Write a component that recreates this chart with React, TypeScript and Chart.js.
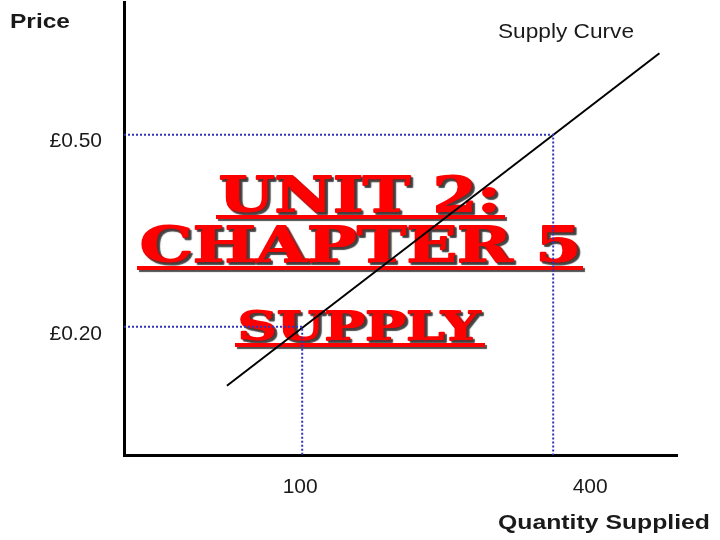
import React, { useEffect, useRef } from "react";
import { Chart, registerables } from "chart.js";

Chart.register(...registerables);

// ---- data ----
const supplyQuantity = [10, 527];
const supplyPrice = [0.108, 0.627];
const markedQuantities = [100, 400];
const markedPrices = [0.2, 0.5];
const yTickValues = [0.2, 0.5];
const xTickValues = [100, 400];
const xTickLabels = ["100", "400"];
const xRange = [-113, 548];
const yRange = [0, 0.707];
const titleLines = ["UNIT 2:", "CHAPTER 5", "SUPPLY"];
const axisTitleX = "Quantity Supplied";
const axisTitleY = "Price";
const seriesLabel = "Supply Curve";

// ---- styles ----
const TEXT = "#1a1a1a";
const GUIDE = "#3333bb";
const SANS = '"Liberation Sans", Arial, sans-serif';
const xTickNudge = [-2, 37];
const titleStyles = [
  { size: 48, cx: 360, base: 212, w: 282, ulTop: 215, ulL: 216, ulR: 505 },
  { size: 48, cx: 361, base: 262, w: 442, ulTop: 266, ulL: 137, ulR: 583 },
  { size: 39, cx: 359, base: 340, w: 242, ulTop: 343, ulL: 235, ulR: 485 },
];

function fitText(
  ctx: CanvasRenderingContext2D,
  text: string,
  x: number,
  y: number,
  font: string,
  width: number,
  align: CanvasTextAlign,
  strokeW = 0
) {
  ctx.save();
  ctx.font = font;
  ctx.textAlign = align;
  ctx.textBaseline = "alphabetic";
  const m = ctx.measureText(text).width;
  ctx.translate(x, y);
  ctx.scale(width / m, 1);
  if (strokeW > 0) {
    ctx.lineWidth = strokeW;
    ctx.lineJoin = "round";
    ctx.strokeStyle = ctx.fillStyle as string;
    ctx.strokeText(text, 0, 0);
  }
  ctx.fillText(text, 0, 0);
  ctx.restore();
}

const titlePlugin = {
  id: "bigTitle",
  beforeDatasetsDraw(chart: any) {
    const ctx: CanvasRenderingContext2D = chart.ctx;
    ctx.save();
    ctx.fillStyle = "#ff0000";
    ctx.shadowColor = "rgba(60,60,60,0.9)";
    ctx.shadowOffsetX = 2;
    ctx.shadowOffsetY = 2;
    ctx.shadowBlur = 1;
    titleLines.forEach((line, i) => {
      const s = titleStyles[i];
      fitText(ctx, line, s.cx, s.base, `bold ${s.size}px "DejaVu Serif", serif`, s.w, "center", 2);
      ctx.fillRect(s.ulL, s.ulTop, s.ulR - s.ulL, 4);
    });
    ctx.restore();
  },
};

const labelsPlugin = {
  id: "labels",
  afterDraw(chart: any) {
    const ctx: CanvasRenderingContext2D = chart.ctx;
    const xs = chart.scales.x;
    ctx.save();
    ctx.fillStyle = TEXT;
    xTickValues.forEach((v, i) => {
      ctx.font = `21px ${SANS}`;
      ctx.textAlign = "center";
      ctx.textBaseline = "alphabetic";
      ctx.fillText(xTickLabels[i], xs.getPixelForValue(v) + xTickNudge[i], 493);
    });
    fitText(ctx, axisTitleY, 10, 28, `bold 20px ${SANS}`, 60, "left");
    fitText(ctx, axisTitleX, 498, 529, `bold 21px ${SANS}`, 212, "left");
    fitText(ctx, seriesLabel, 498, 38, `21px ${SANS}`, 136, "left");
    ctx.restore();
  },
};

export default function App() {
  const ref = useRef<HTMLCanvasElement>(null);
  useEffect(() => {
    if (!ref.current) return;
    const guide = (q: number, p: number) => ({
      data: [
        { x: xRange[0], y: p },
        { x: q, y: p },
        { x: q, y: yRange[0] },
      ],
      borderColor: GUIDE,
      borderWidth: 2,
      borderDash: [2, 2],
      pointRadius: 0,
      tension: 0,
      fill: false,
    });
    const chart = new Chart(ref.current, {
      type: "line",
      data: {
        datasets: [
          guide(markedQuantities[1], markedPrices[1]),
          guide(markedQuantities[0], markedPrices[0]),
          {
            label: seriesLabel,
            data: supplyQuantity.map((q, i) => ({ x: q, y: supplyPrice[i] })),
            borderColor: "#000000",
            borderWidth: 2,
            pointRadius: 0,
            fill: false,
          },
        ] as any,
      },
      options: {
        animation: false,
        responsive: false,
        events: [],
        layout: { padding: { top: 2, right: 43, left: 0, bottom: 0 } },
        plugins: {
          legend: { display: false },
          tooltip: { enabled: false },
          title: { display: false },
        },
        scales: {
          x: {
            type: "linear",
            min: xRange[0],
            max: xRange[1],
            grid: { display: false, drawTicks: false },
            border: { display: true, color: "#000", width: 3 },
            ticks: { display: false },
            afterFit: (s: any) => {
              s.height = 85;
              s.paddingLeft = 0;
              s.paddingRight = 0;
            },
          },
          y: {
            type: "linear",
            min: yRange[0],
            max: yRange[1],
            grid: { display: false, drawTicks: false },
            border: { display: true, color: "#000", width: 3 },
            afterBuildTicks: (s: any) => {
              s.ticks = yTickValues.map((v) => ({ value: v }));
            },
            ticks: {
              color: TEXT,
              font: { size: 21, family: SANS },
              padding: 22,
              labelOffset: 7,
              callback: (v: any) => "£" + Number(v).toFixed(2),
            },
            afterFit: (s: any) => {
              s.width = 124;
              s.paddingTop = 0;
              s.paddingBottom = 0;
            },
          },
        },
      },
      plugins: [titlePlugin, labelsPlugin],
    });
    return () => chart.destroy();
  }, []);
  return (
    <div style={{ position: "fixed", left: 0, top: 0, width: 720, height: 540, background: "#fff" }}>
      <canvas ref={ref} width={720} height={540} />
    </div>
  );
}
